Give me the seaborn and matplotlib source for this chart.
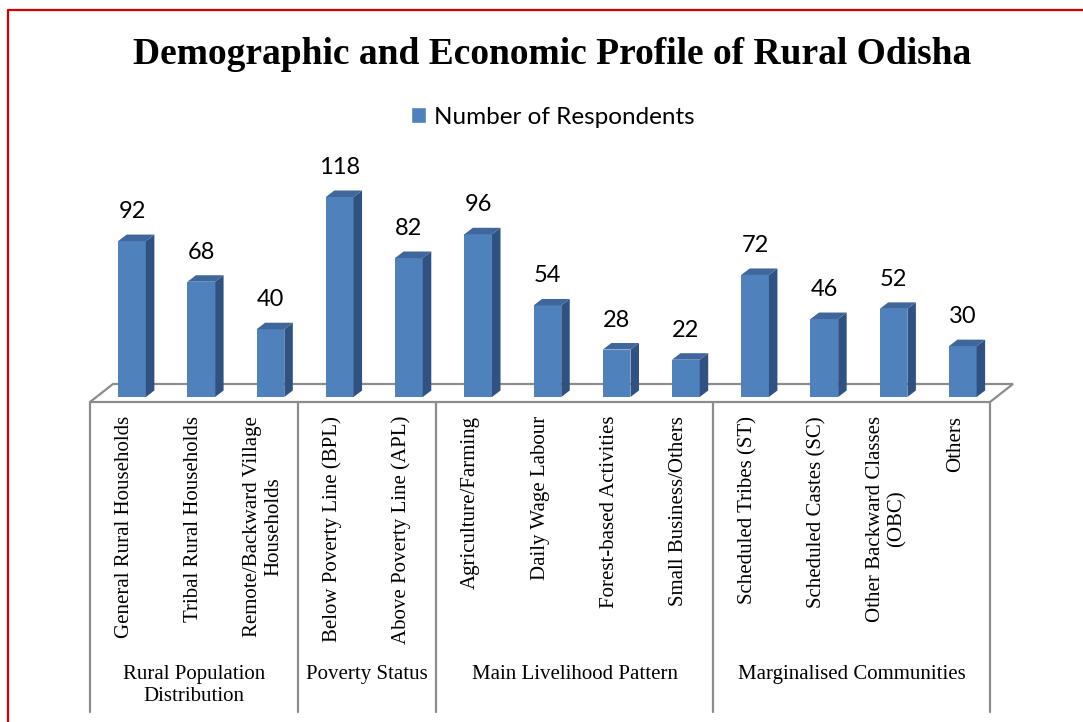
import pandas as pd
import seaborn as sns
import matplotlib.pyplot as plt
from matplotlib.patches import Polygon, Patch
from matplotlib.lines import Line2D

# chart data
categories = [
    "General Rural Households", "Tribal Rural Households",
    "Remote/Backward Village\nHouseholds",
    "Below Poverty Line (BPL)", "Above Poverty Line (APL)",
    "Agriculture/Farming", "Daily Wage Labour", "Forest-based Activities",
    "Small Business/Others",
    "Scheduled Tribes (ST)", "Scheduled Castes (SC)",
    "Other Backward Classes\n(OBC)", "Others",
]
respondents = [92, 68, 40, 118, 82, 96, 54, 28, 22, 72, 46, 52, 30]
group_names = ["Rural Population\nDistribution", "Poverty Status",
               "Main Livelihood Pattern", "Marginalised Communities"]
group_sizes = [3, 2, 4, 4]

sns.set_theme(style="white")
plt.rcParams["text.color"] = "black"
serif = ["Liberation Serif", "DejaVu Serif"]
sans = ["Lato", "DejaVu Sans"]

W, H = 1083, 722
fig = plt.figure(figsize=(W / 100, H / 100), dpi=100)
fig.patch.set_facecolor("white")

# axes placed so the floor front edge is at y=402px, x from 90 to 990px
ax_top, ax_bot = 150, 402
ax = fig.add_axes([90 / W, 1 - ax_bot / H, 900 / W, (ax_bot - ax_top) / H])
n = len(categories)
px_per_y = 1.695
ax.set_xlim(-0.5, n - 0.5)
ax.set_ylim(-5 / px_per_y, (397 - ax_top) / px_per_y)
ax.axis("off")

df = pd.DataFrame({"category": categories, "respondents": respondents})
front = "#4F81BD"
side = "#2F5282"
topc = "#3F679C"
sns.barplot(data=df, x="category", y="respondents", order=categories,
            color=front, width=0.4, saturation=1, ax=ax, zorder=3)

def px2data(dx, dy):
    inv = ax.transData.inverted()
    x0, y0 = inv.transform((0, 0))
    x1, y1 = inv.transform((dx, dy))
    return x1 - x0, y1 - y0

# floor (3D base)
fdx, fdy = px2data(23, 18)
y0 = ax.get_ylim()[0]
floor = Polygon([(-0.5, y0), (n - 0.5, y0), (n - 0.5 + fdx, y0 + fdy),
                 (-0.5 + fdx, y0 + fdy)], closed=True, facecolor="white",
                edgecolor="#8C8C8C", lw=1.6, clip_on=False, zorder=1)
ax.add_patch(floor)

# 3D bars: shift front faces back a little and add side/top faces
shift, _ = px2data(7.4, 0)
ddx, ddy = px2data(8.5, 6.5)
for p, v in zip(ax.patches[:n], respondents):
    p.set_x(p.get_x() + shift)
    p.set_edgecolor("none")
    x0b, x1b = p.get_x(), p.get_x() + p.get_width()
    h = p.get_height()
    ax.add_patch(Polygon([(x1b, 0), (x1b + ddx, ddy), (x1b + ddx, h + ddy), (x1b, h)],
                         closed=True, facecolor=side, edgecolor="none", zorder=3, clip_on=False))
    ax.add_patch(Polygon([(x0b, h), (x1b, h), (x1b + ddx, h + ddy), (x0b + ddx, h + ddy)],
                         closed=True, facecolor=topc, edgecolor="none", zorder=3, clip_on=False))
    ax.annotate(f"{v}", (x0b + p.get_width() / 2, h + ddy), xytext=(0, 9),
                textcoords="offset points", ha="center", va="bottom",
                fontsize=17, family=sans, color="black", annotation_clip=False)

# category labels below the floor
axh = ax_bot - ax_top
xt = ax.get_xaxis_transform()
for i, lab in enumerate(categories):
    ax.text(i, -(416 - ax_bot) / axh, lab, rotation=90, ha="center", va="top",
            multialignment="center", fontsize=15, family=serif, transform=xt,
            linespacing=1.2, color="black")

# group separators and labels
line_bottom = -(712 - ax_bot) / axh
edges = [-0.5]
for s in group_sizes:
    edges.append(edges[-1] + s)
for e in edges:
    ax.plot([e, e], [0, line_bottom], color="#8C8C8C", lw=1.6, transform=xt,
            clip_on=False)
for g, name in enumerate(group_names):
    ax.text((edges[g] + edges[g + 1]) / 2, -(665 - ax_bot) / axh, name,
            ha="center", va="top", fontsize=15, family=serif, transform=xt,
            linespacing=1.2, color="black")

fig.text(552 / W, 1 - 55 / H, "Demographic and Economic Profile of Rural Odisha",
         ha="center", va="center", fontsize=27, fontweight="bold", family=serif,
         color="black")

leg = fig.legend(handles=[Patch(facecolor=front, label="Number of Respondents")],
                 loc="center", bbox_to_anchor=(553 / W, 1 - 117 / H), frameon=False,
                 prop={"family": sans, "size": 17.5}, handlelength=0.6,
                 handleheight=0.6, handletextpad=0.35, labelcolor="black")

# red frame on top and left
fig.add_artist(Line2D([8 / W, 8 / W, 1.01], [-0.01, 1 - 10 / H, 1 - 10 / H],
                      color="#D40000", lw=1.6, transform=fig.transFigure))

fig.savefig("out.png", dpi=100)
